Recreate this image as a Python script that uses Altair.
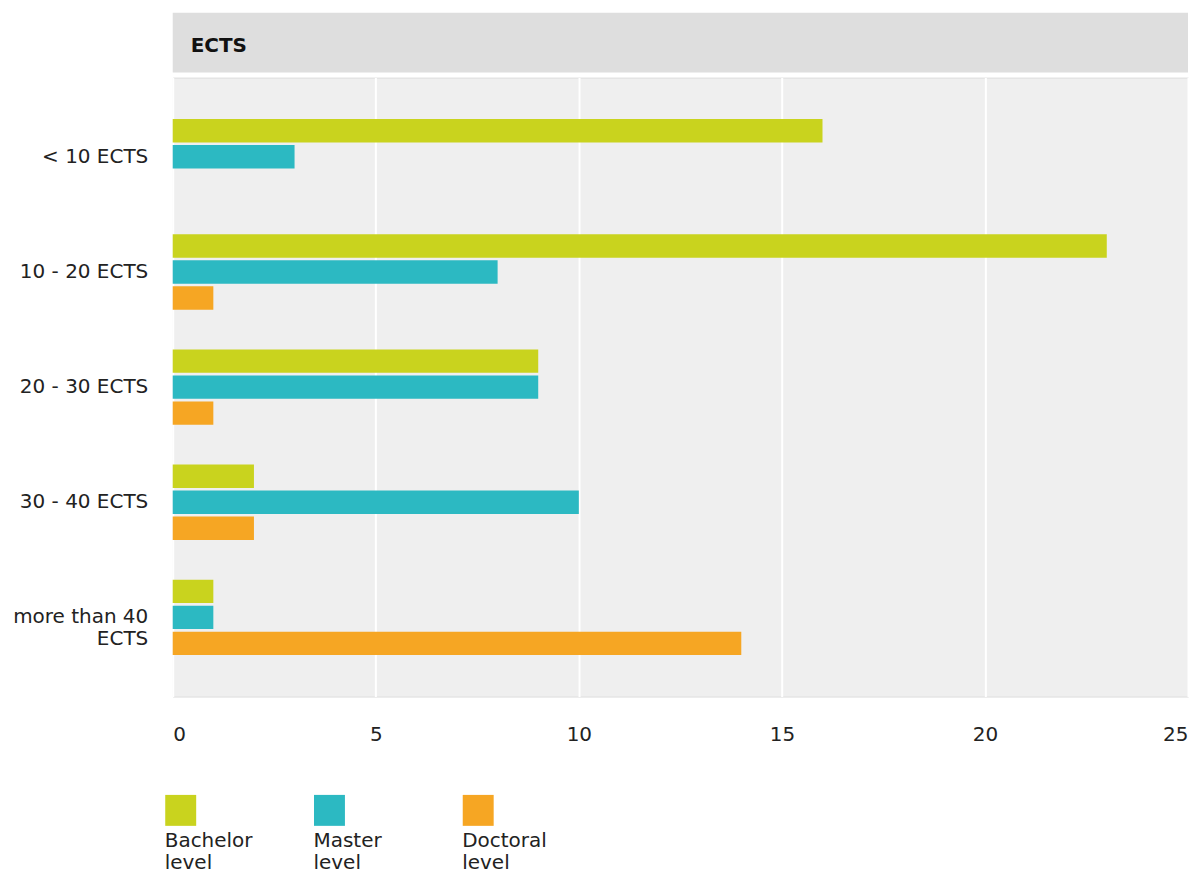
import altair as alt
import pandas as pd

categories = ["< 10 ECTS", "10 - 20 ECTS", "20 - 30 ECTS", "30 - 40 ECTS", "more than 40 ECTS"]
series = ["Bachelor level", "Master level", "Doctoral level"]
bachelor = [16, 23, 9, 2, 1]
master = [3, 8, 9, 10, 1]
doctoral = [0, 1, 1, 2, 14]
colors = ["#c9d31e", "#2cb9c2", "#f6a623"]
x_ticks = [0, 5, 10, 15, 20, 25]
header_title = "ECTS"

rows = []
for s, vals in zip(series, [bachelor, master, doctoral]):
    for c, v in zip(categories, vals):
        rows.append({"category": c, "series": s, "value": v})
df = pd.DataFrame(rows)

W, H = 1017, 620
FONT = "DejaVu Sans"
FS = 20
TXT = "#222222"

bars = alt.Chart(df).mark_bar().encode(
    x=alt.X("value:Q", scale=alt.Scale(domain=[0, 25], nice=False),
            axis=alt.Axis(values=x_ticks, title=None, labelFlush=True, labelPadding=28,
                          domain=False, ticks=False, grid=True, gridColor="white", gridWidth=2,
                          labelFont=FONT, labelFontSize=FS, labelColor=TXT)),
    y=alt.Y("category:N", sort=categories,
            scale=alt.Scale(paddingInner=0.345, paddingOuter=0.36),
            axis=alt.Axis(title=None, domain=False, ticks=False, labelPadding=25,
                          minExtent=164, maxExtent=164, labelFont=FONT, labelFontSize=FS,
                          labelColor=TXT, labelLimit=200, labelLineHeight=22,
                          labelExpr="datum.value == 'more than 40 ECTS' ? ['more than 40', 'ECTS'] : datum.value")),
    yOffset=alt.YOffset("series:N", sort=series, scale=alt.Scale(paddingInner=0.1)),
    color=alt.Color("series:N", sort=series, scale=alt.Scale(domain=series, range=colors), legend=None),
)

hdr = pd.DataFrame({"t": [header_title]})
header_rect = alt.Chart(hdr).mark_rect(color="#dedede").encode(
    x=alt.value(0), x2=alt.value(W), y=alt.value(-65), y2=alt.value(-5))
header_text = alt.Chart(hdr).mark_text(align="left", baseline="middle", fontWeight="bold",
                                       fontSize=FS, font=FONT, color="#111111").encode(
    x=alt.value(18), y=alt.value(-32), text="t:N")

main = alt.layer(header_rect, header_text, bars).properties(
    width=W, height=H,
    view=alt.ViewBackground(fill="#efefef", stroke="#dddddd", strokeWidth=1))

leg_df = pd.DataFrame({"series": series})
leg_x = alt.X("series:N", sort=series,
              scale=alt.Scale(type="point", domain=series, range=[8, 306], padding=0), axis=None)
squares = alt.Chart(leg_df).mark_square(size=961, opacity=1).encode(
    x=leg_x, y=alt.value(15),
    color=alt.Color("series:N", scale=alt.Scale(domain=series, range=colors), legend=None))
texts = alt.Chart(leg_df).mark_text(align="left", baseline="top", dx=-16, lineBreak=" ",
                                    fontSize=FS, font=FONT, lineHeight=22, color=TXT).encode(
    x=leg_x, y=alt.value(36), text="series:N")
legend = alt.layer(squares, texts).properties(
    width=600, height=70, view=alt.ViewBackground(stroke=None, fill=None))

chart = alt.vconcat(main, legend, spacing=49).properties(
    padding={"left": 0, "top": 3, "right": 0, "bottom": 0}
).configure_view(stroke=None)

chart.save("out.html", embed_options={"renderer": "svg", "actions": False})
